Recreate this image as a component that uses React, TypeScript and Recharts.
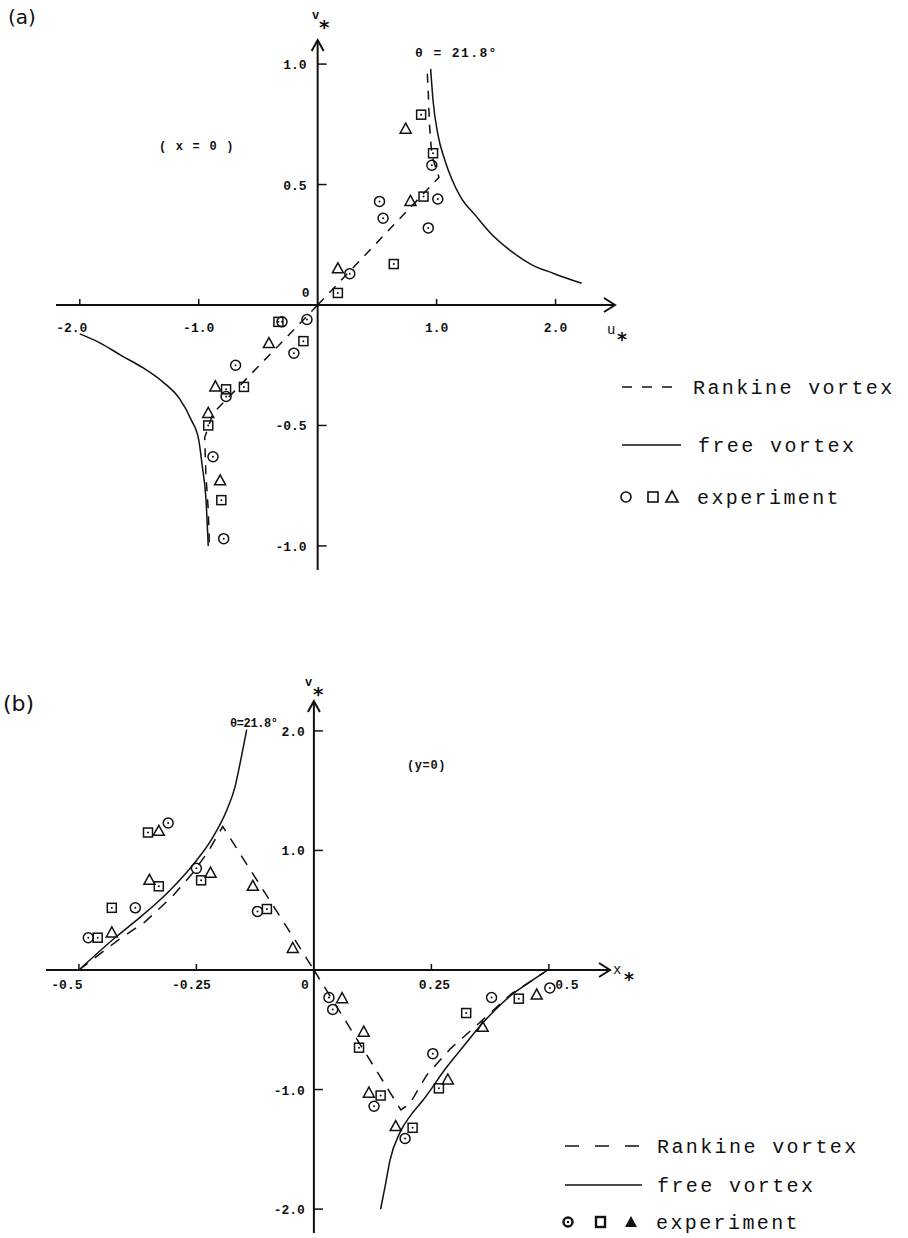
import React from "react";
import {
  ComposedChart,
  XAxis,
  YAxis,
  Line,
  Scatter,
  ReferenceLine,
  ReferenceDot,
} from "recharts";

const MONO = "'Liberation Mono', 'DejaVu Sans Mono', monospace";

// ---- panel (a): v* against u*, section x = 0 ----
const freeA_right = [
  { x: 0.95, y: 0.98 }, { x: 0.97, y: 0.85 }, { x: 1.01, y: 0.71 },
  { x: 1.07, y: 0.6 }, { x: 1.13, y: 0.52 }, { x: 1.2, y: 0.45 },
  { x: 1.33, y: 0.37 }, { x: 1.45, y: 0.3 }, { x: 1.61, y: 0.23 },
  { x: 1.79, y: 0.17 }, { x: 1.99, y: 0.13 }, { x: 2.22, y: 0.09 },
];
const freeA_left = [
  { x: -2.0, y: -0.12 }, { x: -1.82, y: -0.16 }, { x: -1.65, y: -0.21 },
  { x: -1.47, y: -0.26 }, { x: -1.3, y: -0.32 }, { x: -1.16, y: -0.39 },
  { x: -1.06, y: -0.48 }, { x: -1.0, y: -0.56 }, { x: -0.97, y: -0.67 },
  { x: -0.94, y: -0.8 }, { x: -0.92, y: -1.0 },
];
const rankA_right = [
  { x: 0, y: 0 }, { x: 1.02, y: 0.53 }, { x: 0.96, y: 0.62 },
  { x: 0.94, y: 0.75 }, { x: 0.93, y: 0.88 }, { x: 0.92, y: 0.98 },
];
const rankA_left = [
  { x: 0, y: 0 }, { x: -0.88, y: -0.45 }, { x: -0.95, y: -0.55 },
  { x: -0.94, y: -0.7 }, { x: -0.92, y: -0.85 }, { x: -0.91, y: -1.0 },
];
const circlesA = [
  { x: 0.96, y: 0.58 }, { x: 0.52, y: 0.43 }, { x: 0.55, y: 0.36 },
  { x: 1.01, y: 0.44 }, { x: 0.93, y: 0.32 }, { x: 0.27, y: 0.13 },
  { x: -0.3, y: -0.07 }, { x: -0.09, y: -0.06 }, { x: -0.2, y: -0.2 },
  { x: -0.69, y: -0.25 }, { x: -0.77, y: -0.38 }, { x: -0.88, y: -0.63 },
  { x: -0.79, y: -0.97 },
];
const squaresA = [
  { x: 0.87, y: 0.79 }, { x: 0.97, y: 0.63 }, { x: 0.89, y: 0.45 },
  { x: 0.64, y: 0.17 }, { x: 0.17, y: 0.05 }, { x: -0.33, y: -0.07 },
  { x: -0.12, y: -0.15 }, { x: -0.77, y: -0.35 }, { x: -0.62, y: -0.34 },
  { x: -0.92, y: -0.5 }, { x: -0.81, y: -0.81 },
];
const trianglesA = [
  { x: 0.74, y: 0.73 }, { x: 0.78, y: 0.43 }, { x: 0.17, y: 0.15 },
  { x: -0.41, y: -0.16 }, { x: -0.86, y: -0.34 }, { x: -0.92, y: -0.45 },
  { x: -0.82, y: -0.73 },
];
const ticksAx = [-2, -1, 1, 2];
const labelsAx = ["-2.0", "-1.0", "1.0", "2.0"];
const ticksAy = [1, 0.5, -0.5, -1];
const labelsAy = ["1.0", "0.5", "-0.5", "-1.0"];

// ---- panel (b): v* against x*, section y = 0 ----
const freeB_left = [
  { x: -0.5, y: 0 }, { x: -0.42, y: 0.28 }, { x: -0.37, y: 0.44 },
  { x: -0.313, y: 0.64 }, { x: -0.27, y: 0.82 }, { x: -0.249, y: 0.92 },
  { x: -0.215, y: 1.11 }, { x: -0.185, y: 1.34 }, { x: -0.168, y: 1.53 },
  { x: -0.157, y: 1.73 }, { x: -0.143, y: 2.01 },
];
const freeB_right = [
  { x: 0.142, y: -2.0 }, { x: 0.152, y: -1.8 }, { x: 0.162, y: -1.59 },
  { x: 0.183, y: -1.36 }, { x: 0.205, y: -1.22 }, { x: 0.232, y: -1.09 },
  { x: 0.283, y: -0.81 }, { x: 0.32, y: -0.63 }, { x: 0.36, y: -0.44 },
  { x: 0.417, y: -0.22 }, { x: 0.46, y: -0.1 }, { x: 0.498, y: 0 },
];
const rankB_left = [
  { x: -0.5, y: 0 }, { x: -0.42, y: 0.24 }, { x: -0.36, y: 0.4 },
  { x: -0.3, y: 0.62 }, { x: -0.26, y: 0.8 }, { x: -0.225, y: 0.99 },
  { x: -0.194, y: 1.2 }, { x: -0.1, y: 0.62 }, { x: -0.045, y: 0.28 },
  { x: 0, y: 0 },
];
const rankB_right = [
  { x: 0, y: 0 }, { x: 0.185, y: -1.17 }, { x: 0.204, y: -1.12 },
  { x: 0.24, y: -0.88 }, { x: 0.29, y: -0.66 }, { x: 0.35, y: -0.45 },
  { x: 0.42, y: -0.2 }, { x: 0.49, y: -0.02 },
];
const circlesB = [
  { x: -0.48, y: 0.27 }, { x: -0.38, y: 0.52 }, { x: -0.31, y: 1.23 },
  { x: -0.25, y: 0.85 }, { x: -0.12, y: 0.49 }, { x: 0.032, y: -0.23 },
  { x: 0.04, y: -0.33 }, { x: 0.128, y: -1.14 }, { x: 0.194, y: -1.41 },
  { x: 0.253, y: -0.7 }, { x: 0.378, y: -0.23 }, { x: 0.502, y: -0.15 },
];
const squaresB = [
  { x: -0.46, y: 0.27 }, { x: -0.43, y: 0.52 }, { x: -0.353, y: 1.15 },
  { x: -0.33, y: 0.7 }, { x: -0.24, y: 0.75 }, { x: -0.1, y: 0.51 },
  { x: 0.096, y: -0.65 }, { x: 0.142, y: -1.05 }, { x: 0.21, y: -1.32 },
  { x: 0.266, y: -0.99 }, { x: 0.324, y: -0.36 }, { x: 0.436, y: -0.24 },
];
const trianglesB = [
  { x: -0.43, y: 0.31 }, { x: -0.33, y: 1.16 }, { x: -0.35, y: 0.75 },
  { x: -0.22, y: 0.81 }, { x: -0.13, y: 0.7 }, { x: -0.045, y: 0.18 },
  { x: 0.06, y: -0.24 }, { x: 0.106, y: -0.52 }, { x: 0.117, y: -1.03 },
  { x: 0.174, y: -1.31 }, { x: 0.285, y: -0.92 }, { x: 0.359, y: -0.48 },
  { x: 0.474, y: -0.21 },
];
const ticksBx = [-0.5, -0.25, 0.25, 0.5];
const labelsBx = ["-0.5", "-0.25", "0.25", "0.5"];
const ticksBy = [2, 1, -1, -2];
const labelsBy = ["2.0", "1.0", "-1.0", "-2.0"];

const INK = "#111";

const Circ = (p: any) => (
  <g>
    <circle cx={p.cx} cy={p.cy} r={5} fill="none" stroke={INK} strokeWidth={1.5} />
    <circle cx={p.cx} cy={p.cy} r={1} fill={INK} />
  </g>
);
const Sq = (p: any) => (
  <g>
    <rect x={p.cx - 4.5} y={p.cy - 4.5} width={9} height={9} fill="none" stroke={INK} strokeWidth={1.5} />
    <circle cx={p.cx} cy={p.cy} r={1} fill={INK} />
  </g>
);
const Tri = (p: any) => (
  <polygon
    points={`${p.cx},${p.cy - 6} ${p.cx - 5.5},${p.cy + 4} ${p.cx + 5.5},${p.cy + 4}`}
    fill="none"
    stroke={INK}
    strokeWidth={1.5}
  />
);

const tickFont = { fontFamily: MONO, fontWeight: 700, fontSize: 13, fill: INK } as const;

const xTick = (label: string, dx: number, dy: number) => (p: any) => (
  <g>
    <line x1={p.cx} y1={p.cy} x2={p.cx} y2={p.cy - 6} stroke={INK} strokeWidth={1.5} />
    <text x={p.cx + dx} y={p.cy + dy} textAnchor="middle" {...tickFont}>
      {label}
    </text>
  </g>
);
const yTick = (label: string, gap: number) => (p: any) => (
  <g>
    <line x1={p.cx} y1={p.cy} x2={p.cx + 9} y2={p.cy} stroke={INK} strokeWidth={1.5} />
    <text x={p.cx - gap} y={p.cy + 5} textAnchor="end" {...tickFont}>
      {label}
    </text>
  </g>
);
const originLabel = (dx: number, dy: number) => (p: any) => (
  <text x={p.cx + dx} y={p.cy + dy} textAnchor="middle" {...tickFont}>
    0
  </text>
);
const arrowRight = (p: any) => (
  <path d={`M${p.cx - 11},${p.cy - 7} L${p.cx},${p.cy} L${p.cx - 11},${p.cy + 7}`} fill="none" stroke={INK} strokeWidth={2} />
);
const arrowUp = (p: any) => (
  <path d={`M${p.cx - 6},${p.cy + 11} L${p.cx},${p.cy} L${p.cx + 6},${p.cy + 11}`} fill="none" stroke={INK} strokeWidth={2} />
);

const curve = (data: any[], dashed: string | undefined, key: string) => (
  <Line
    key={key}
    data={data}
    dataKey="y"
    type={dashed ? "linear" : "monotone"}
    stroke={INK}
    strokeWidth={1.5}
    strokeDasharray={dashed}
    dot={false}
    activeDot={false}
    isAnimationActive={false}
  />
);

const PanelA = () => (
  <ComposedChart width={908} height={620} margin={{ top: 40, right: 293, bottom: 50, left: 56 }}>
    <XAxis type="number" dataKey="x" domain={[-2.2, 2.5]} hide allowDataOverflow />
    <YAxis type="number" dataKey="y" domain={[-1.1, 1.1]} hide allowDataOverflow />
    <ReferenceLine x={0} stroke={INK} strokeWidth={2} />
    <ReferenceLine y={0} stroke={INK} strokeWidth={2} />
    {ticksAx.map((t, i) => (
      <ReferenceDot key={"ax" + t} x={t} y={0} r={0} ifOverflow="visible"
        shape={xTick(labelsAx[i], t === -2 ? -8 : 0, 27)} />
    ))}
    {ticksAy.map((t, i) => (
      <ReferenceDot key={"ay" + t} x={0} y={t} r={0} ifOverflow="visible" shape={yTick(labelsAy[i], 11)} />
    ))}
    <ReferenceDot x={0} y={0} r={0} ifOverflow="visible" shape={originLabel(-12, -8)} />
    <ReferenceDot x={2.5} y={0} r={0} ifOverflow="visible" shape={arrowRight} />
    <ReferenceDot x={0} y={1.1} r={0} ifOverflow="visible" shape={arrowUp} />
    {curve(freeA_right, undefined, "fr")}
    {curve(freeA_left, undefined, "fl")}
    {curve(rankA_right, "9 8", "rr")}
    {curve(rankA_left, "9 8", "rl")}
    <Scatter data={circlesA} dataKey="y" shape={Circ} isAnimationActive={false} />
    <Scatter data={squaresA} dataKey="y" shape={Sq} isAnimationActive={false} />
    <Scatter data={trianglesA} dataKey="y" shape={Tri} isAnimationActive={false} />
  </ComposedChart>
);

const PanelB = () => (
  <ComposedChart width={908} height={598} margin={{ top: 61, right: 298, bottom: 5, left: 46 }}>
    <XAxis type="number" dataKey="x" domain={[-0.57, 0.63]} hide allowDataOverflow />
    <YAxis type="number" dataKey="y" domain={[-2.2, 2.25]} hide allowDataOverflow />
    <ReferenceLine x={0} stroke={INK} strokeWidth={2} />
    <ReferenceLine y={0} stroke={INK} strokeWidth={2} />
    {ticksBx.map((t, i) => (
      <ReferenceDot key={"bx" + t} x={t} y={0} r={0} ifOverflow="visible"
        shape={xTick(labelsBx[i], [-12, -5, 3, 18][i], 19)} />
    ))}
    {ticksBy.map((t, i) => (
      <ReferenceDot key={"by" + t} x={0} y={t} r={0} ifOverflow="visible" shape={yTick(labelsBy[i], 9)} />
    ))}
    <ReferenceDot x={0} y={0} r={0} ifOverflow="visible" shape={originLabel(-9, 19)} />
    <ReferenceDot x={0.63} y={0} r={0} ifOverflow="visible" shape={arrowRight} />
    <ReferenceDot x={0} y={2.25} r={0} ifOverflow="visible" shape={arrowUp} />
    {curve(freeB_left, undefined, "fl")}
    {curve(freeB_right, undefined, "fr")}
    {curve(rankB_left, "11 9", "rl")}
    {curve(rankB_right, "11 9", "rr")}
    <Scatter data={circlesB} dataKey="y" shape={Circ} isAnimationActive={false} />
    <Scatter data={squaresB} dataKey="y" shape={Sq} isAnimationActive={false} />
    <Scatter data={trianglesB} dataKey="y" shape={Tri} isAnimationActive={false} />
  </ComposedChart>
);

const legendText = { fontFamily: MONO, fontSize: 20, letterSpacing: 2.4, fill: INK } as const;

const Overlay = () => (
  <svg width={908} height={1238} style={{ position: "absolute", left: 0, top: 0, pointerEvents: "none" }}>
    <text x={8} y={24} fontFamily="'DejaVu Sans', sans-serif" fontSize={20} fill={INK}>(a)</text>
    <text x={3} y={711} fontFamily="'DejaVu Sans', sans-serif" fontSize={22} fill={INK}>(b)</text>

    {/* axis names */}
    <text x={312} y={19} fontFamily={MONO} fontSize={12} fontWeight={700} fill={INK}>v</text>
    <text x={319} y={34} fontFamily="'DejaVu Sans', sans-serif" fontSize={20} fontWeight={700} fill={INK}>*</text>
    <text x={607} y={334} fontFamily={MONO} fontSize={14} fill={INK}>u</text>
    <text x={617} y={346} fontFamily="'DejaVu Sans', sans-serif" fontSize={19} fontWeight={700} fill={INK}>*</text>
    <text x={305} y={686} fontFamily={MONO} fontSize={12} fontWeight={700} fill={INK}>v</text>
    <text x={313} y={701} fontFamily="'DejaVu Sans', sans-serif" fontSize={20} fontWeight={700} fill={INK}>*</text>
    <text x={613} y={974} fontFamily={MONO} fontSize={14} fill={INK}>x</text>
    <text x={624} y={986} fontFamily="'DejaVu Sans', sans-serif" fontSize={19} fontWeight={700} fill={INK}>*</text>

    {/* annotations */}
    <text x={415} y={57} fontFamily={MONO} fontSize={13} fontWeight={700} letterSpacing={1.4} fill={INK}>θ = 21.8°</text>
    <text x={159} y={150} fontFamily={MONO} fontSize={12} fontWeight={700} letterSpacing={1.2} fill={INK}>( x = 0 )</text>
    <text x={230} y={727} fontFamily={MONO} fontSize={12} fontWeight={700} letterSpacing={-0.4} fill={INK}>θ=21.8°</text>
    <text x={407} y={769} fontFamily={MONO} fontSize={12} fontWeight={700} letterSpacing={0.6} fill={INK}>(y=0)</text>

    {/* legend (a) */}
    <line x1={622} y1={387} x2={672} y2={387} stroke={INK} strokeWidth={1.6} strokeDasharray="10 10" />
    <text x={693} y={394} {...legendText}>Rankine vortex</text>
    <line x1={622} y1={445} x2={681} y2={445} stroke={INK} strokeWidth={1.6} />
    <text x={698} y={452} {...legendText}>free vortex</text>
    <circle cx={626} cy={497} r={5} fill="none" stroke={INK} strokeWidth={1.6} />
    <rect x={648} y={492} width={10} height={10} fill="none" stroke={INK} strokeWidth={1.6} />
    <polygon points="672,491 666,502 678,502" fill="none" stroke={INK} strokeWidth={1.6} />
    <text x={697} y={504} {...legendText}>experiment</text>

    {/* legend (b) */}
    <line x1={565} y1={1146} x2={640} y2={1146} stroke={INK} strokeWidth={1.6} strokeDasharray="14 16" />
    <text x={657} y={1153} {...legendText}>Rankine vortex</text>
    <line x1={565} y1={1185} x2={642} y2={1185} stroke={INK} strokeWidth={1.6} />
    <text x={657} y={1192} {...legendText}>free vortex</text>
    <circle cx={568} cy={1222} r={4.5} fill="none" stroke={INK} strokeWidth={2.4} />
    <circle cx={568} cy={1222} r={1.2} fill={INK} />
    <rect x={596} y={1217} width={9} height={10} fill="none" stroke={INK} strokeWidth={2.4} />
    <polygon points="631,1216 625,1227 637,1227" fill={INK} />
    <text x={656} y={1229} {...legendText}>experiment</text>
  </svg>
);

export default function App() {
  return (
    <div style={{ position: "absolute", left: 0, top: 0, width: 908, height: 1238, background: "#fff" }}>
      <div style={{ position: "absolute", left: 0, top: 0 }}>
        <PanelA />
      </div>
      <div style={{ position: "absolute", left: 0, top: 640 }}>
        <PanelB />
      </div>
      <Overlay />
    </div>
  );
}
